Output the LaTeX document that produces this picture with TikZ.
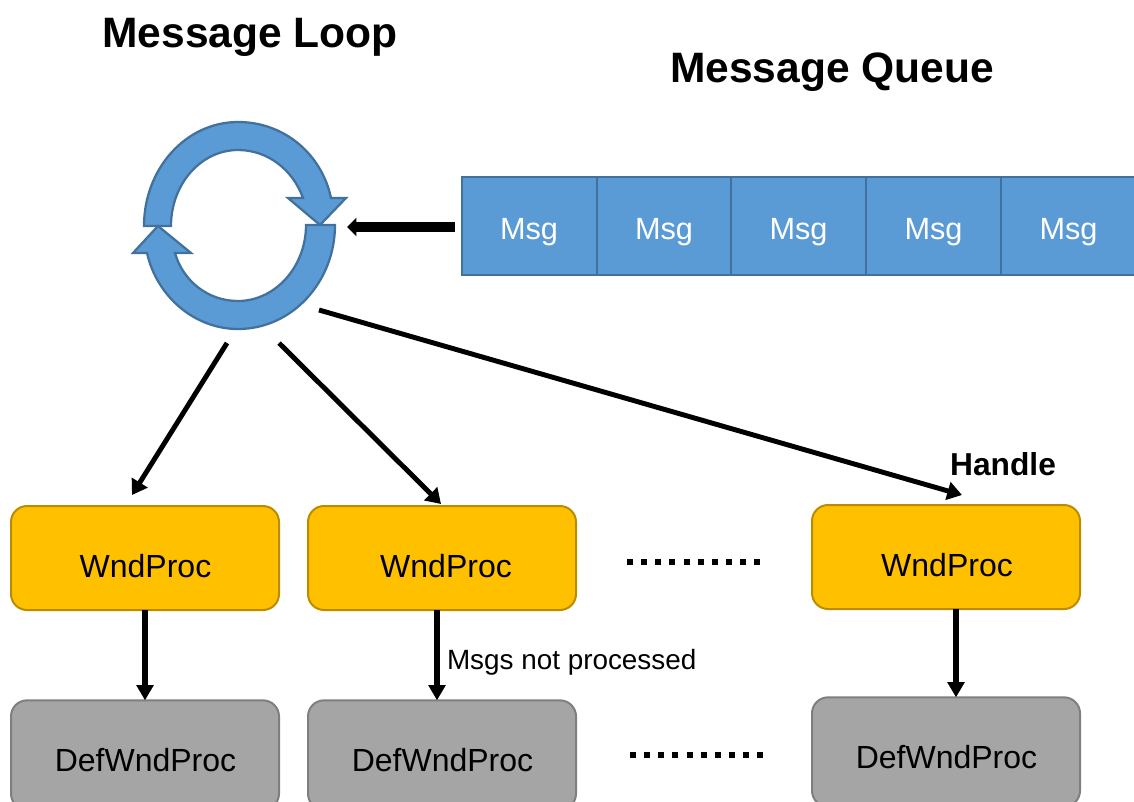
\documentclass[tikz,border=0pt]{standalone}
\usepackage{fontspec}
\setmainfont{Liberation Sans}
\usetikzlibrary{arrows.meta}
\definecolor{blueF}{HTML}{5B9BD5}
\definecolor{blueD}{HTML}{41719C}
\definecolor{goldF}{HTML}{FFC000}
\definecolor{goldD}{HTML}{BC8C00}
\definecolor{greyF}{HTML}{A5A5A5}
\definecolor{greyD}{HTML}{7F7F7F}
\newcommand{\boxtext}[3]{\raisebox{#2}[0pt][0pt]{\makebox[0pt]{\hspace*{#1}#3}}}
\newlength{\pxu}\setlength{\pxu}{0.75pt}
\tikzset{
  x=0.75pt,y=-0.75pt,
  every node/.style={inner sep=0pt,outer sep=0pt},
  title/.style={font=\fontsize{31.9}{36}\selectfont\bfseries},
  loopshape/.style={fill=blueF,draw=blueD,line width=1.7pt,line join=miter},
  msgbox/.style={rectangle,fill=blueF,draw=blueD,line width=1.5pt,minimum width=101.25pt,minimum height=73.5pt,text=white,font=\fontsize{23}{27}\selectfont},
  wndbox/.style={rectangle,rounded corners=12pt,fill=goldF,draw=goldD,line width=1.5pt,minimum width=201pt,minimum height=78pt,font=\fontsize{24}{28}\selectfont},
  defbox/.style={rectangle,rounded corners=12pt,fill=greyF,draw=greyD,line width=1.5pt,minimum width=201pt,minimum height=82pt,font=\fontsize{24}{28}\selectfont},
  flow/.style={line width=3.7pt,-{Triangle[length=11pt,width=13.5pt]}},
  flowthin/.style={line width=4pt,-{Triangle[length=11.5pt,width=12.5pt]}},
  queueflow/.style={line width=7pt,-{Triangle[length=7pt,width=13.5pt]}},
  ann/.style={font=\fontsize{20.9}{24}\selectfont},
  annb/.style={font=\fontsize{23.8}{28}\selectfont\bfseries},
  dotrow/.style={line width=4.5pt,dash pattern=on 4.5pt off 6.1pt},
}
\begin{document}
\begin{tikzpicture}
\useasboundingbox (0,0) rectangle (1134,801);
\clip (0,0) rectangle (1134,801);
% titles
\node[title] (tloop) at (250,37) {Message Loop};
\node[title] (tqueue) at (832,72.5) {Message Queue};
% cycle arrows
\path[loopshape] (144,226) .. controls (144,168.6) and (186,122) .. (238,122)
  .. controls (285,122) and (322,155) .. (331,198) -- (346,198) -- (320,225) -- (288,198) -- (303,198)
  .. controls (293,170) and (268,150) .. (238,150)
  .. controls (201,150) and (171,184) .. (171,226) -- cycle;
\path[loopshape] (335,225) .. controls (335,282) and (292,329) .. (238,329)
  .. controls (195,329) and (157,297) .. (147,253) -- (133,253) -- (158,226) -- (191,253) -- (175,253)
  .. controls (183,281) and (208,301) .. (238,301)
  .. controls (275,301) and (306,267) .. (306,225) -- cycle;
% queue
\node[msgbox] (m1) at (529,226) {\boxtext{0pt}{-13\pxu}{Msg}};
\node[msgbox] (m2) at (664,226) {\boxtext{0pt}{-13\pxu}{Msg}};
\node[msgbox] (m3) at (798.5,226) {\boxtext{0pt}{-13\pxu}{Msg}};
\node[msgbox] (m4) at (933.5,226) {\boxtext{0pt}{-13\pxu}{Msg}};
\node[msgbox] (m5) at (1068.5,226) {\boxtext{0pt}{-13\pxu}{Msg}};
% handlers
\node[wndbox] (w1) at (145,558) {\boxtext{1\pxu}{-19\pxu}{WndProc}};
\node[wndbox] (w2) at (442,558) {\boxtext{8\pxu}{-19\pxu}{WndProc}};
\node[wndbox] (w3) at (946,557) {\boxtext{2\pxu}{-19\pxu}{WndProc}};
\node[defbox] (d1) at (145,755) {\boxtext{1\pxu}{-16\pxu}{DefWndProc}};
\node[defbox] (d2) at (442,755) {\boxtext{1\pxu}{-16\pxu}{DefWndProc}};
\node[defbox] (d3) at (946,752) {\boxtext{1\pxu}{-16\pxu}{DefWndProc}};
% free connector ends
\coordinate (qout) at (455,227);
\coordinate (lin) at (347,227);
\coordinate (la) at (227,343);
\coordinate (lb) at (279,343);
\coordinate (lc) at (319,310);
\coordinate (ta) at (132,495);
\coordinate (tb) at (441,504);
\coordinate (tc) at (962,495);
\draw[queueflow] (qout) -- (lin);
\draw[flow] (la) -- (ta);
\draw[flow] (lb) -- (tb);
\draw[flow] (lc) -- (tc);
\draw[flowthin] (w1.south) -- (d1.north);
\draw[flowthin] ([xshift=-3.75pt]w2.south) -- ([xshift=-3.75pt]d2.north);
\draw[flowthin] ([xshift=7.5pt]w3.south) -- ([xshift=7.5pt]d3.north);
% labels
\node[annb] (handle) at (1003,464) {Handle};
\node[ann,anchor=west] (notproc) at (447,662) {Msgs not processed};
% dots
\coordinate (da) at (627,562);
\coordinate (db) at (761,562);
\coordinate (dc) at (630,755);
\coordinate (dd) at (764,755);
\draw[dotrow] (da) -- (db);
\draw[dotrow] (dc) -- (dd);
\end{tikzpicture}
\end{document}
